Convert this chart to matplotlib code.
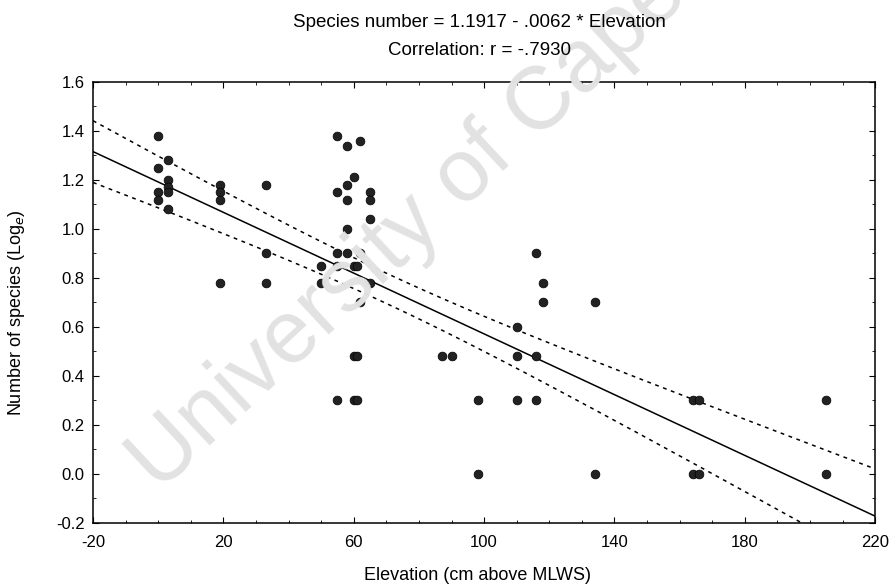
import matplotlib.pyplot as plt
import numpy as np
from matplotlib.ticker import MultipleLocator

# elevation (cm above MLWS) and log species number
elev = [0, 0, 0, 0,
        3, 3, 3, 3, 3,
        19, 19, 19, 19,
        33, 33, 33,
        50, 50,
        55, 55, 55, 55, 55,
        58, 58, 58, 58, 58,
        60, 60, 60, 60,
        61, 61, 61,
        62, 62, 62,
        65, 65, 65, 65,
        87, 90,
        98, 98,
        110, 110, 110,
        116, 116, 116,
        118, 118,
        134, 134,
        164, 166, 164, 166,
        205, 205]
species = [1.38, 1.25, 1.15, 1.12,
           1.28, 1.20, 1.17, 1.15, 1.08,
           1.18, 1.15, 1.12, 0.78,
           1.18, 0.90, 0.78,
           0.85, 0.78,
           1.38, 1.15, 0.90, 0.85, 0.30,
           1.34, 1.18, 1.12, 1.00, 0.90,
           1.21, 0.85, 0.48, 0.30,
           0.85, 0.48, 0.30,
           1.36, 0.90, 0.70,
           1.15, 1.12, 1.04, 0.78,
           0.48, 0.48,
           0.30, 0.00,
           0.60, 0.48, 0.30,
           0.90, 0.48, 0.30,
           0.78, 0.70,
           0.70, 0.00,
           0.30, 0.30, 0.00, 0.00,
           0.30, 0.00]

intercept = 1.1917
slope = -0.0062
r_value = -0.7930

plt.rcParams['font.family'] = ['Liberation Sans', 'DejaVu Sans']
plt.rcParams['axes.unicode_minus'] = False

x = np.array(elev, dtype=float)
y = np.array(species)
n = len(x)

fig = plt.figure(figsize=(8.94, 5.85), dpi=100)
ax = fig.add_axes([0.104, 0.106, 0.875, 0.754])

# watermark
fig.text(0.178, 0.157, 'University of Cape Town', fontsize=64, color='#e2e2e2',
         rotation=43, rotation_mode='anchor', ha='left', va='baseline', zorder=0)
ax.set_facecolor('none')

# regression line and confidence band for the mean
xs = np.linspace(-20, 220, 200)
fit = intercept + slope * xs
resid = y - (intercept + slope * x)
s = np.sqrt(np.sum(resid ** 2) / (n - 2))
sxx = np.sum((x - x.mean()) ** 2)
band = 1.8 * s * np.sqrt(1.0 / n + (xs - x.mean()) ** 2 / sxx)

ax.plot(xs, fit, color='black', lw=1.1)
ax.plot(xs, fit + band, color='black', lw=1.1, linestyle=(0, (2.5, 3)))
ax.plot(xs, fit - band, color='black', lw=1.1, linestyle=(0, (2.5, 3)))
ax.scatter(x, y, s=40, color='#222222', edgecolors='black', linewidths=0.5, zorder=3)

ax.set_xlim(-20, 220)
ax.set_ylim(-0.2, 1.6)
ax.set_xticks(np.arange(-20, 221, 40))
ax.set_yticks(np.arange(-0.2, 1.61, 0.2))
ax.set_yticklabels(['%.1f' % v for v in np.arange(-0.2, 1.61, 0.2)])
ax.xaxis.set_minor_locator(MultipleLocator(10))
ax.yaxis.set_minor_locator(MultipleLocator(0.1))
ax.tick_params(which='both', direction='in', top=True, right=True, labelsize=12)
ax.tick_params(which='major', length=4)
ax.tick_params(which='minor', length=2)
ax.tick_params(axis='x', pad=8.5)
ax.tick_params(axis='y', pad=6)
for sp in ax.spines.values():
    sp.set_linewidth(1.1)

ax.set_xlabel('Elevation (cm above MLWS)', fontsize=13)
ax.set_ylabel('Number of species (Log$_e$)', fontsize=13)
ax.xaxis.set_label_coords(0.491, -0.099)
ax.yaxis.set_label_coords(-0.084, 0.476)

fig.text(0.536, 0.962, 'Species number = %.4f - %s * Elevation' % (intercept, ('%.4f' % -slope)[1:]),
         ha='center', va='center', fontsize=13.5)
fig.text(0.536, 0.913, 'Correlation: r = -%s' % ('%.4f' % -r_value)[1:],
         ha='center', va='center', fontsize=13.5)

fig.savefig('out.png', dpi=100)
